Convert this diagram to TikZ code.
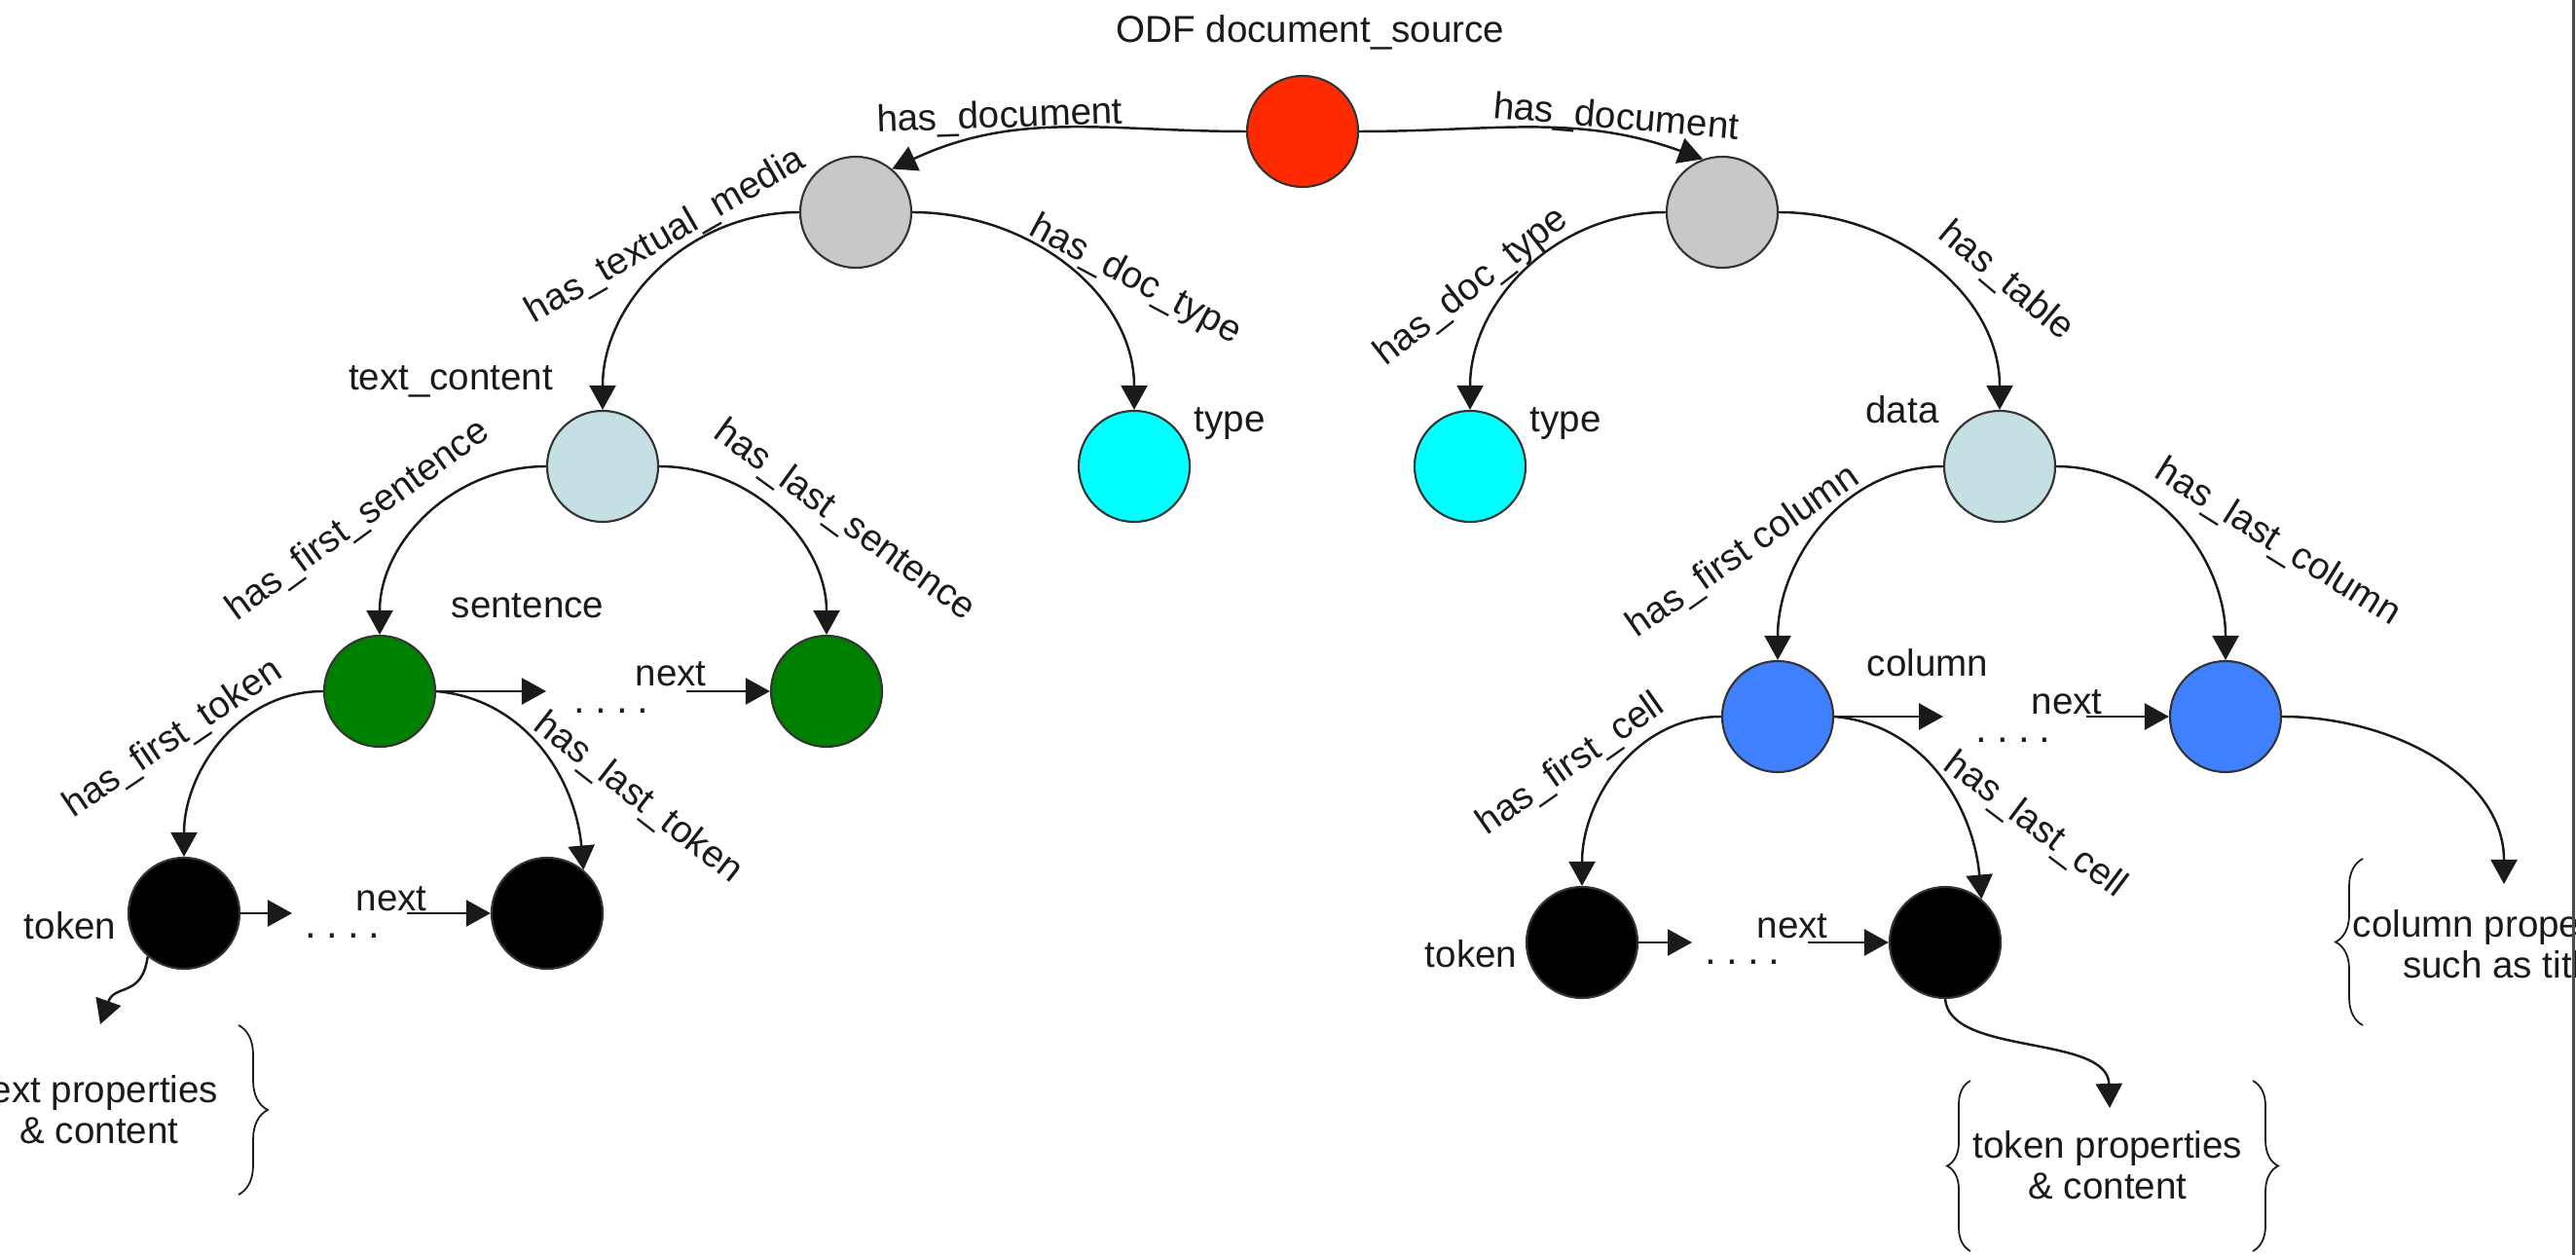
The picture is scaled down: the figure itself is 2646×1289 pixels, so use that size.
\documentclass[tikz,border=0pt]{standalone}
\usepackage{fontspec}
\setmainfont{Liberation Sans}
\usetikzlibrary{arrows.meta,decorations.pathreplacing}

\definecolor{rootred}{HTML}{FF2A00}
\definecolor{docgray}{HTML}{C8C8C8}
\definecolor{contblue}{HTML}{C4E0E5}
\definecolor{typecyan}{HTML}{00FFFF}
\definecolor{sentgreen}{HTML}{008000}
\definecolor{colblue}{HTML}{4080FF}
\definecolor{ink}{HTML}{1A1A1A}
\newcommand{\gapdots}{.\hspace{0.1cm}.\hspace{0.1cm}.\hspace{0.1cm}.}

\begin{document}
\begin{tikzpicture}[x=0.01cm,y=0.01cm,
  font=\fontsize{10.96pt}{12pt}\selectfont,
  term/.style={circle, draw=black!80, line width=0.6pt, minimum size=1.14cm, inner sep=0pt},
  lbl/.style={inner sep=0pt, text=ink},
  link/.style={draw=ink, line width=0.7pt, -{Triangle[length=0.25cm,width=0.27cm]}},
  bracket/.style={draw=ink, line width=0.5pt, decorate, decoration={brace, amplitude=#1}},
  dotrow/.style={lbl, anchor=base, font=\fontsize{12pt}{12pt}\selectfont}
]
\useasboundingbox (0,0) rectangle (2646,-1289);
\clip (0,0) rectangle (2646,-1289);

% ---- resources ----
\node[term, fill=rootred]   (root)  at (1338,-135) {};
\node[term, fill=docgray]   (docL)  at (879,-218)  {};
\node[term, fill=docgray]   (docR)  at (1769,-218) {};
\node[term, fill=contblue]  (textc) at (619,-479)  {};
\node[term, fill=typecyan]  (typeL) at (1165,-479) {};
\node[term, fill=typecyan]  (typeR) at (1510,-479) {};
\node[term, fill=contblue]  (data)  at (2054,-479) {};
\node[term, fill=sentgreen] (sent1) at (390,-710)  {};
\node[term, fill=sentgreen] (sent2) at (849,-710)  {};
\node[term, fill=black]     (tok1)  at (189,-938)  {};
\node[term, fill=black]     (tok2)  at (562,-938)  {};
\node[term, fill=colblue]   (col1)  at (1826,-736) {};
\node[term, fill=colblue]   (col2)  at (2286,-736) {};
\node[term, fill=black]     (tok3)  at (1625,-968) {};
\node[term, fill=black]     (tok4)  at (1998,-968) {};

% ---- resource names ----
\node[lbl] (lroot)  at (1346,-33)  {ODF document\_source};
\node[lbl] (ltextc) at (463,-392)  {text\_content};
\node[lbl] (ltypeL) at (1263,-435) {type};
\node[lbl] (ltypeR) at (1608,-435) {type};
\node[lbl] (ldata)  at (1954,-421) {data};
\node[lbl] (lsent)  at (542,-622)  {sentence};
\node[lbl] (lcol)   at (1980,-681) {column};
\node[lbl] (ltok1)  at (72,-951)   {token};
\node[lbl] (ltok3)  at (1511,-980) {token};

% ---- property edges ----
\draw[link] (root.west) to[out=180,in=25] (docL.50);
\draw[link] (root.east) to[out=0,in=160] (docR.110);
\draw[link] (docL.west) to[out=180,in=90] (textc.north);
\draw[link] (docL.east) to[out=0,in=90] (typeL.north);
\draw[link] (docR.west) to[out=180,in=90] (typeR.north);
\draw[link] (docR.east) to[out=0,in=90] (data.north);
\draw[link] (textc.west) to[out=180,in=90] (sent1.north);
\draw[link] (textc.east) to[out=0,in=90] (sent2.north);
\draw[link] (sent1.west) to[out=180,in=90] (tok1.north);
\draw[link] (sent1.east) to[out=-5,in=95] (tok2.50);
\draw[link] (data.west) to[out=180,in=90] (col1.north);
\draw[link] (data.east) to[out=0,in=90] (col2.north);
\draw[link] (col1.west) to[out=180,in=90] (tok3.north);
\draw[link] (col1.east) to[out=-5,in=95] (tok4.50);

% ---- edge labels ----
\node[lbl, rotate=2]   (e1)  at (1027,-121) {has\_document};
\node[lbl, rotate=-5]  (e2)  at (1660,-122) {has\_document};
\node[lbl, rotate=30]  (e3)  at (684,-243)  {has\_textual\_media};
\node[lbl, rotate=-28] (e4)  at (1166,-288) {has\_doc\_type};
\node[lbl, rotate=38]  (e5)  at (1512,-295) {has\_doc\_type};
\node[lbl, rotate=-40] (e6)  at (2060,-289) {has\_table};
\node[lbl, rotate=36]  (e7)  at (368,-535)  {has\_first\_sentence};
\node[lbl, rotate=-36] (e8)  at (867,-535)  {has\_last\_sentence};
\node[lbl, rotate=34]  (e9)  at (178,-759)  {has\_first\_token};
\node[lbl, rotate=-38] (e10) at (655,-820)  {has\_last\_token};
\node[lbl, rotate=35]  (e11) at (1791,-567) {has\_first column};
\node[lbl, rotate=-32] (e12) at (2339,-558) {has\_last\_column};
\node[lbl, rotate=35]  (e13) at (1614,-786) {has\_first\_cell};
\node[lbl, rotate=-37] (e14) at (2090,-848) {has\_last\_cell};

% ---- sequences linked by next ----
% sentences
\coordinate (s1end) at (561,-710);
\coordinate (s2beg) at (705,-710);
\draw[link] (sent1.east) -- (s1end);
\node[dotrow] (sdots) at (628,-733) {\gapdots};
\node[lbl] (snext) at (689,-692) {next};
\draw[link] (s2beg) -- (sent2.west);
% tokens of a sentence
\coordinate (t1end) at (300,-938);
\coordinate (t2beg) at (418,-938);
\draw[link] (tok1.east) -- (t1end);
\node[dotrow] (tdots) at (352,-963) {\gapdots};
\node[lbl] (tnext) at (402,-923) {next};
\draw[link] (t2beg) -- (tok2.west);
% columns
\coordinate (c1end) at (1996,-736);
\coordinate (c2beg) at (2143,-736);
\draw[link] (col1.east) -- (c1end);
\node[dotrow] (cdots) at (2068,-763) {\gapdots};
\node[lbl] (cnext) at (2123,-721) {next};
\draw[link] (c2beg) -- (col2.west);
% cells of a column
\coordinate (k1end) at (1738,-968);
\coordinate (k2beg) at (1857,-968);
\draw[link] (tok3.east) -- (k1end);
\node[dotrow] (kdots) at (1790,-990) {\gapdots};
\node[lbl] (knext) at (1841,-951) {next};
\draw[link] (k2beg) -- (tok4.west);

% ---- property groups ----
\coordinate (txTip) at (103,-1052);
\draw[link] (tok1.230) .. controls (146,-1025) and (118,-1010) .. (txTip);
\node[lbl, align=center] (txtprops) at (102,-1140) {text properties\\\& content};
\draw[bracket=0.3cm] (245,-1053) -- (245,-1227);

\coordinate (cpTip) at (2572,-908);
\draw[link] (col2.east) to[out=0,in=90] (cpTip);
\node[lbl, align=center] (colprops) at (2570,-970) {column properties\\such as title};
\draw[bracket=0.28cm] (2427,-1053) -- (2427,-882);

\coordinate (tpTip) at (2167,-1138);
\draw[link] (tok4.south) .. controls (2003,-1085) and (2165,-1062) .. (tpTip);
\node[lbl, align=center] (tokprops) at (2165,-1197) {token properties\\\& content};
\draw[bracket=0.24cm] (2024,-1285) -- (2024,-1110);
\draw[bracket=0.26cm] (2314,-1110) -- (2314,-1285);

% frame edge on the right
\draw[line width=0.03cm, draw=black!70] (2643,0) -- (2643,-1289);
\end{tikzpicture}
\end{document}
